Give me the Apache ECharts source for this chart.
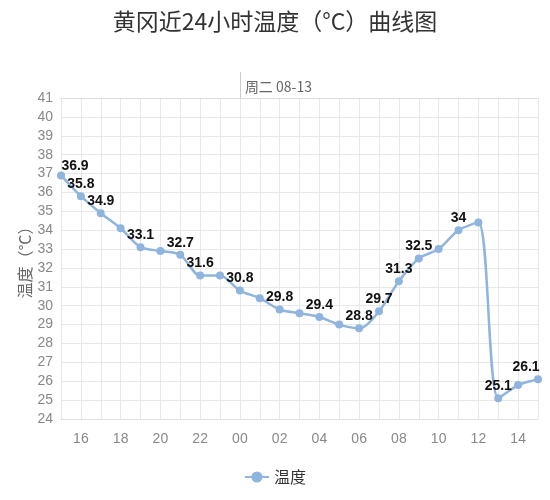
<!DOCTYPE html>
<html><head><meta charset="utf-8">
<script src="https://cdn.jsdelivr.net/npm/echarts@6/dist/echarts.min.js"></script>
<style>html,body{margin:0;padding:0;background:#fff}#c{width:550px;height:500px}</style>
</head><body><div id="c"></div>
<script>
var hours = ['15','16','17','18','19','20','21','22','23','00','01','02','03','04','05','06','07','08','09','10','11','12','13','14','15'];
var temps = [36.9,35.8,34.9,34.1,33.1,32.9,32.7,31.6,31.6,30.8,30.4,29.8,29.6,29.4,29.0,28.8,29.7,31.3,32.5,33.0,34,34.4,25.1,25.8,26.1];
var labeledIdx = [0,1,2,4,6,7,9,11,13,15,16,17,18,20,22,24];
var dayLabel = '周二 08-13';
var dayIdx = 9;

var chart = echarts.init(document.getElementById('c'));
var seriesData = temps.map(function(v,i){
  var d = {value:v};
  if(i===0){ d.label = {offset:[14,3]}; }
  if(i===temps.length-1){ d.label = {offset:[-12,0]}; }
  return d;
});
chart.setOption({
  animation:false,
  title:{text:'黄冈近24小时温度（°C）曲线图',left:'center',top:5,
    textStyle:{fontSize:23,fontWeight:'normal',color:'#333',fontFamily:'Noto Sans CJK SC'}},
  legend:{bottom:10,data:['温度'],itemWidth:24,itemHeight:14,
    textStyle:{fontSize:16,color:'#333',fontFamily:'Noto Sans CJK SC'}},
  grid:{left:61,right:12,top:98,bottom:81},
  xAxis:[{
    type:'category',data:hours,boundaryGap:false,
    axisLine:{lineStyle:{color:'#ddd'}},
    axisTick:{show:false},
    axisLabel:{interval:function(i){return i%2===1;},color:'#888',fontSize:14,margin:13,fontFamily:'Liberation Sans'},
    splitLine:{show:true,interval:0,lineStyle:{color:'#e8e8e8'}}
  },{
    type:'category',data:hours,boundaryGap:false,position:'top',
    axisLine:{show:true,lineStyle:{color:'#ddd'}},
    axisTick:{show:true,alignWithLabel:true,interval:function(i){return i===dayIdx;},length:26,lineStyle:{color:'#ccc'}},
    axisLabel:{interval:function(i){return i===dayIdx;},formatter:function(){return dayLabel;},align:'left',padding:[0,0,0,5],margin:4,color:'#666',fontSize:14,fontFamily:'Noto Sans CJK SC'},
    splitLine:{show:false}
  }],
  yAxis:{
    type:'value',min:24,max:41,interval:1,
    name:'温度（°C）',nameLocation:'middle',nameGap:28,nameRotate:90,nameMoveOverlap:false,
    nameTextStyle:{fontSize:16,color:'#666',fontFamily:'Noto Sans CJK SC'},
    axisLine:{show:false},axisTick:{show:false},
    axisLabel:{color:'#888',fontSize:14,margin:8,fontFamily:'Liberation Sans'},
    splitLine:{lineStyle:{color:'#e8e8e8'}}
  },
  series:[{
    name:'温度',type:'line',data:seriesData,smooth:0.3,
    symbol:'circle',symbolSize:8,
    itemStyle:{color:'#8fb4de'},
    lineStyle:{width:2.5,color:'#8fb4de'},
    label:{show:true,position:'top',distance:1,color:'#111',fontWeight:'bold',fontSize:14,fontFamily:'Liberation Sans',
      formatter:function(p){return labeledIdx.indexOf(p.dataIndex)>=0?String(p.value):'';}}
  }]
});
</script></body></html>
